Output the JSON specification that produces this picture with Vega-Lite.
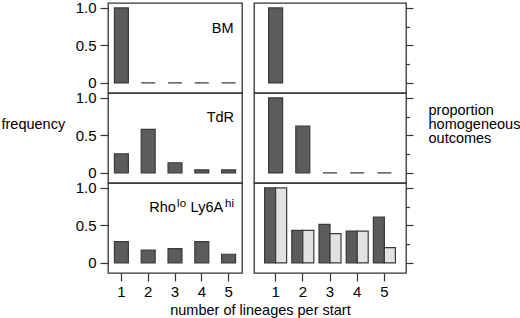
{
  "$schema": "https://vega.github.io/schema/vega-lite/v6.json",
  "padding": {"left": 0, "top": 0, "right": 0, "bottom": 0},
  "background": "white",
  "datasets": {
    "freq": [
      {"population": "BM", "lineages": 1, "frequency": 1.0},
      {"population": "BM", "lineages": 2, "frequency": 0},
      {"population": "BM", "lineages": 3, "frequency": 0},
      {"population": "BM", "lineages": 4, "frequency": 0},
      {"population": "BM", "lineages": 5, "frequency": 0},
      {"population": "TdR", "lineages": 1, "frequency": 0.255},
      {"population": "TdR", "lineages": 2, "frequency": 0.58},
      {"population": "TdR", "lineages": 3, "frequency": 0.135},
      {"population": "TdR", "lineages": 4, "frequency": 0.04},
      {"population": "TdR", "lineages": 5, "frequency": 0.04},
      {"population": "Rho", "lineages": 1, "frequency": 0.284},
      {"population": "Rho", "lineages": 2, "frequency": 0.172},
      {"population": "Rho", "lineages": 3, "frequency": 0.19},
      {"population": "Rho", "lineages": 4, "frequency": 0.284},
      {"population": "Rho", "lineages": 5, "frequency": 0.115}
    ],
    "prop": [
      {"population": "BM", "lineages": 1, "series": "a", "proportion": 1.0},
      {"population": "TdR", "lineages": 1, "series": "a", "proportion": 1.0},
      {"population": "TdR", "lineages": 2, "series": "a", "proportion": 0.625},
      {"population": "TdR", "lineages": 3, "series": "a", "proportion": 0},
      {"population": "TdR", "lineages": 4, "series": "a", "proportion": 0},
      {"population": "TdR", "lineages": 5, "series": "a", "proportion": 0},
      {"population": "Rho", "lineages": 1, "series": "a", "proportion": 1.0},
      {"population": "Rho", "lineages": 1, "series": "b", "proportion": 1.0},
      {"population": "Rho", "lineages": 2, "series": "a", "proportion": 0.433},
      {"population": "Rho", "lineages": 2, "series": "b", "proportion": 0.433},
      {"population": "Rho", "lineages": 3, "series": "a", "proportion": 0.513},
      {"population": "Rho", "lineages": 3, "series": "b", "proportion": 0.39},
      {"population": "Rho", "lineages": 4, "series": "a", "proportion": 0.424},
      {"population": "Rho", "lineages": 4, "series": "b", "proportion": 0.424},
      {"population": "Rho", "lineages": 5, "series": "a", "proportion": 0.61},
      {"population": "Rho", "lineages": 5, "series": "b", "proportion": 0.204}
    ]
  },
  "config": {
    "font": "Liberation Sans",
    "view": {"stroke": "#333333", "strokeWidth": 1.3},
    "axis": {
      "domain": false, "grid": false,
      "tickColor": "#333333", "tickWidth": 1.2,
      "labelFont": "Liberation Sans", "labelFontSize": 15, "labelColor": "black",
      "titleFont": "Liberation Sans", "titleFontSize": 14.5, "titleFontWeight": "normal", "titleColor": "black"
    },
    "text": {"font": "Liberation Sans", "fontSize": 14, "color": "black"}
  },
  "title": {
    "text": "number of lineages per start",
    "orient": "bottom", "anchor": "middle",
    "font": "Liberation Sans", "fontSize": 14.5, "fontWeight": "normal", "color": "black",
    "offset": 4
  },
  "spacing": 10,
  "hconcat": [
    {
      "spacing": 0,
      "bounds": "flush",
      "vconcat": [
        {
          "width": 134, "height": 90,
          "layer": [
            {
              "data": {"name": "freq"},
              "transform": [{"filter": "datum.population == 'BM'"}],
              "mark": {"type": "bar", "fill": "#5c5c5c", "stroke": "#3a3a3a", "strokeWidth": 1.2},
              "encoding": {
                "x": {"field": "lineages", "type": "ordinal", "scale": {"domain": [1, 2, 3, 4, 5], "paddingInner": 0.48, "paddingOuter": 0.24}, "axis": null},
                "y": {"field": "frequency", "type": "quantitative", "scale": {"domain": [-0.135, 1.065], "nice": false, "zero": false},
                  "axis": {"values": [0, 0.25, 0.5, 0.75, 1], "title": null,
                    "labelExpr": "datum.value == 0 ? '0' : (datum.value == 0.5 ? '0.5' : (datum.value == 1 ? '1.0' : ''))",
                    "tickSize": {"condition": {"test": "datum.value == 0.25 || datum.value == 0.75", "value": 3}, "value": 8},
                    "labelPadding": 4}},
                "y2": {"datum": 0}
              }
            },
            {
              "data": {"values": [{"label": "BM", "lineages": 5, "y": 0.667}]},
              "mark": {"type": "text", "align": "right", "baseline": "alphabetic", "dx": 5, "fontSize": 14.5},
              "encoding": {
                "x": {"field": "lineages", "type": "ordinal"},
                "y": {"field": "y", "type": "quantitative"},
                "text": {"field": "label"}
              }
            }
          ]
        },
        {
          "width": 134, "height": 90,
          "layer": [
            {
              "data": {"name": "freq"},
              "transform": [{"filter": "datum.population == 'TdR'"}],
              "mark": {"type": "bar", "fill": "#5c5c5c", "stroke": "#3a3a3a", "strokeWidth": 1.2},
              "encoding": {
                "x": {"field": "lineages", "type": "ordinal", "scale": {"domain": [1, 2, 3, 4, 5], "paddingInner": 0.48, "paddingOuter": 0.24}, "axis": null},
                "y": {"field": "frequency", "type": "quantitative", "scale": {"domain": [-0.135, 1.065], "nice": false, "zero": false},
                  "axis": {"values": [0, 0.25, 0.5, 0.75, 1], "title": "frequency",
                    "titleAngle": 0, "titleAlign": "left", "titleBaseline": "alphabetic", "titleX": -107, "titleY": 35,
                    "labelExpr": "datum.value == 0 ? '0' : (datum.value == 0.5 ? '0.5' : (datum.value == 1 ? '1.0' : ''))",
                    "tickSize": {"condition": {"test": "datum.value == 0.25 || datum.value == 0.75", "value": 3}, "value": 8},
                    "labelPadding": 4}},
                "y2": {"datum": 0}
              }
            },
            {
              "data": {"values": [{"label": "TdR", "lineages": 5, "y": 0.68}]},
              "mark": {"type": "text", "align": "right", "baseline": "alphabetic", "dx": 5.5, "fontSize": 14.5},
              "encoding": {
                "x": {"field": "lineages", "type": "ordinal"},
                "y": {"field": "y", "type": "quantitative"},
                "text": {"field": "label"}
              }
            }
          ]
        },
        {
          "width": 134, "height": 90,
          "layer": [
            {
              "data": {"name": "freq"},
              "transform": [{"filter": "datum.population == 'Rho'"}],
              "mark": {"type": "bar", "fill": "#5c5c5c", "stroke": "#3a3a3a", "strokeWidth": 1.2},
              "encoding": {
                "x": {"field": "lineages", "type": "ordinal", "scale": {"domain": [1, 2, 3, 4, 5], "paddingInner": 0.48, "paddingOuter": 0.24},
                  "axis": {"title": null, "labelAngle": 0, "tickSize": 8, "labelPadding": 3}},
                "y": {"field": "frequency", "type": "quantitative", "scale": {"domain": [-0.135, 1.065], "nice": false, "zero": false},
                  "axis": {"values": [0, 0.25, 0.5, 0.75, 1], "title": null,
                    "labelExpr": "datum.value == 0 ? '0' : (datum.value == 0.5 ? '0.5' : (datum.value == 1 ? '1.0' : ''))",
                    "tickSize": {"condition": {"test": "datum.value == 0.25 || datum.value == 0.75", "value": 3}, "value": 8},
                    "labelPadding": 4}},
                "y2": {"datum": 0}
              }
            },
            {
              "data": {"values": [{"label": "Rho", "lineages": 5, "y": 0.68}]},
              "mark": {"type": "text", "align": "left", "baseline": "alphabetic", "dx": -79.3, "fontSize": 14.5},
              "encoding": {"x": {"field": "lineages", "type": "ordinal"}, "y": {"field": "y", "type": "quantitative"}, "text": {"field": "label"}}
            },
            {
              "data": {"values": [{"label": "lo", "lineages": 5, "y": 0.68}]},
              "mark": {"type": "text", "align": "left", "baseline": "alphabetic", "dx": -51.5, "dy": -5, "fontSize": 11.5},
              "encoding": {"x": {"field": "lineages", "type": "ordinal"}, "y": {"field": "y", "type": "quantitative"}, "text": {"field": "label"}}
            },
            {
              "data": {"values": [{"label": "Ly6A", "lineages": 5, "y": 0.68}]},
              "mark": {"type": "text", "align": "left", "baseline": "alphabetic", "dx": -38, "fontSize": 14.5},
              "encoding": {"x": {"field": "lineages", "type": "ordinal"}, "y": {"field": "y", "type": "quantitative"}, "text": {"field": "label"}}
            },
            {
              "data": {"values": [{"label": "hi", "lineages": 5, "y": 0.68}]},
              "mark": {"type": "text", "align": "left", "baseline": "alphabetic", "dx": -3.5, "dy": -5, "fontSize": 11.5},
              "encoding": {"x": {"field": "lineages", "type": "ordinal"}, "y": {"field": "y", "type": "quantitative"}, "text": {"field": "label"}}
            }
          ]
        }
      ]
    },
    {
      "spacing": 0,
      "bounds": "flush",
      "vconcat": [
        {
          "width": 152, "height": 90,
          "data": {"name": "prop"},
          "transform": [{"filter": "datum.population == 'BM'"}],
          "mark": {"type": "bar", "fill": "#5c5c5c", "stroke": "#3a3a3a", "strokeWidth": 1.2},
          "encoding": {
            "x": {"field": "lineages", "type": "ordinal", "scale": {"domain": [1, 2, 3, 4, 5], "paddingInner": 0.485, "paddingOuter": 0.537}, "axis": null},
            "y": {"field": "proportion", "type": "quantitative", "scale": {"domain": [-0.135, 1.065], "nice": false, "zero": false},
              "axis": {"orient": "right", "values": [0, 0.25, 0.5, 0.75, 1], "title": null, "labels": false,
                "tickSize": {"condition": {"test": "datum.value == 0.25 || datum.value == 0.75", "value": 3.5}, "value": 7}}},
            "y2": {"datum": 0}
          }
        },
        {
          "width": 152, "height": 90,
          "data": {"name": "prop"},
          "transform": [{"filter": "datum.population == 'TdR'"}],
          "mark": {"type": "bar", "fill": "#5c5c5c", "stroke": "#3a3a3a", "strokeWidth": 1.2},
          "encoding": {
            "x": {"field": "lineages", "type": "ordinal", "scale": {"domain": [1, 2, 3, 4, 5], "paddingInner": 0.485, "paddingOuter": 0.537}, "axis": null},
            "y": {"field": "proportion", "type": "quantitative", "scale": {"domain": [-0.135, 1.065], "nice": false, "zero": false},
              "axis": {"orient": "right", "values": [0, 0.25, 0.5, 0.75, 1], "labels": false,
                "title": ["proportion", "homogeneous", "outcomes"],
                "titleAngle": 0, "titleAlign": "left", "titleBaseline": "alphabetic", "titleX": 22, "titleY": 21, "titleLineHeight": 14,
                "tickSize": {"condition": {"test": "datum.value == 0.25 || datum.value == 0.75", "value": 3.5}, "value": 7}}},
            "y2": {"datum": 0}
          }
        },
        {
          "width": 152, "height": 90,
          "data": {"name": "prop"},
          "transform": [{"filter": "datum.population == 'Rho'"}],
          "mark": {"type": "bar", "stroke": "#3a3a3a", "strokeWidth": 1.2},
          "encoding": {
            "x": {"field": "lineages", "type": "ordinal", "scale": {"domain": [1, 2, 3, 4, 5], "paddingInner": 0.19, "paddingOuter": 0.39},
              "axis": {"title": null, "labelAngle": 0, "tickSize": 8, "labelPadding": 3}},
            "xOffset": {"field": "series", "type": "nominal", "scale": {"domain": ["a", "b"], "paddingInner": 0, "paddingOuter": 0}},
            "color": {"field": "series", "type": "nominal", "scale": {"domain": ["a", "b"], "range": ["#5c5c5c", "#e2e2e2"]}, "legend": null},
            "y": {"field": "proportion", "type": "quantitative", "scale": {"domain": [-0.135, 1.065], "nice": false, "zero": false},
              "axis": {"orient": "right", "values": [0, 0.25, 0.5, 0.75, 1], "title": null, "labels": false,
                "tickSize": {"condition": {"test": "datum.value == 0.25 || datum.value == 0.75", "value": 3.5}, "value": 7}}},
            "y2": {"datum": 0}
          }
        }
      ]
    }
  ]
}
